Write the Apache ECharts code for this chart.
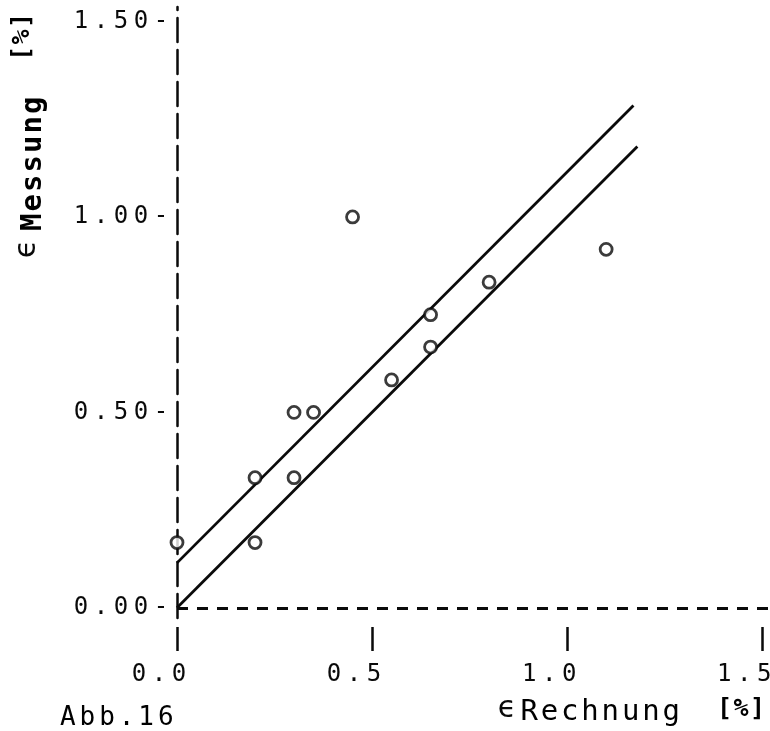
<!DOCTYPE html>
<html><head><meta charset="utf-8">
<script src="https://cdn.jsdelivr.net/npm/echarts@6/dist/echarts.min.js"></script>
<style>html,body{margin:0;padding:0;background:#fff}#c{width:770px;height:731px}</style>
</head><body><div id="c"></div>
<script>
// ---- data ----
const xRechnung = [0.0, 0.2, 0.2, 0.3, 0.3, 0.35, 0.45, 0.55, 0.65, 0.65, 0.8, 1.1];
const yMessung  = [0.167, 0.167, 0.333, 0.333, 0.5, 0.5, 1.0, 0.583, 0.667, 0.75, 0.833, 0.917];
const lowerLineX = [0, 1.18];
const lowerLineY = [0, 1.18];
const upperLineX = [0, 1.17];
const upperLineY = [0.115, 1.285];
const xTickValues = [0, 0.5, 1.0, 1.5];
const xTickLabels = ['0.0', '0.5', '1.0', '1.5'];
const yTickValues = [0, 0.5, 1.0, 1.5];
const yTickLabels = ['0.00', '0.50', '1.00', '1.50'];

const INK = '#0a0a0a';
const MONO = '"DejaVu Sans Mono", "Liberation Mono", monospace';
const SANS = '"DejaVu Sans", "Noto Sans", sans-serif';

function spaced(str, key) {
  return str.split('').map(ch => '{' + key + '|' + ch + '}').join('');
}
function cellStyle(size, w, weight) {
  return { width: w, align: 'center', fontFamily: MONO, fontSize: size, color: INK,
           fontWeight: weight || 'normal' };
}

const scatterData = xRechnung.map((x, i) => [x, yMessung[i]]);
const lowerData = lowerLineX.map((x, i) => [x, lowerLineY[i]]);
const upperData = upperLineX.map((x, i) => [x, upperLineY[i]]);

const chart = echarts.init(document.getElementById('c'), null, { renderer: 'canvas' });
chart.setOption({
  animation: false,
  backgroundColor: '#fff',
  grid: { left: 177, right: 0, top: 7, bottom: 113, containLabel: false, outerBoundsMode: 'none' },
  xAxis: {
    type: 'value', min: 0, max: 1.52, position: 'bottom', offset: 9,
    axisLine: { show: false, onZero: false },
    axisTick: { show: true, customValues: xTickValues, length: 24, inside: false,
                lineStyle: { color: INK, width: 2.5 } },
    axisLabel: {
      customValues: xTickValues, margin: 36,
      formatter: v => {
        const i = xTickValues.indexOf(v);
        return spaced(i >= 0 ? xTickLabels[i] : '', 'c') + '{pad| }';
      },
      rich: { c: cellStyle(24, 20), pad: { width: 36, fontSize: 24, fontFamily: MONO } }
    },
    splitLine: { show: false }
  },
  yAxis: {
    type: 'value', min: -0.026, max: 1.537,
    axisLine: { show: true, onZero: false, lineStyle: { color: INK, width: 2.5, type: [24, 8] } },
    axisTick: { show: false },
    axisLabel: {
      customValues: yTickValues, margin: 6,
      formatter: v => {
        const i = yTickValues.indexOf(v);
        return spaced((i >= 0 ? yTickLabels[i] : '') + '-', 'c');
      },
      rich: { c: cellStyle(24, 20) }
    },
    splitLine: { show: false }
  },
  series: [
    {
      type: 'line', data: lowerData, showSymbol: false, symbol: 'none', silent: true,
      lineStyle: { color: INK, width: 2.8 }, z: 3,
      markLine: {
        silent: true, symbol: ['none', 'none'], label: { show: false },
        lineStyle: { color: INK, width: 3, type: [11, 9] },
        data: [{ yAxis: 0 }]
      }
    },
    {
      type: 'line', data: upperData, showSymbol: false, symbol: 'none', silent: true,
      lineStyle: { color: INK, width: 2.8 }, z: 3
    },
    {
      type: 'scatter', data: scatterData, symbol: 'circle', symbolSize: 12, z: 4,
      itemStyle: { color: '#fff', borderColor: INK, borderWidth: 2.8 }
    }
  ],
  graphic: [
    { type: 'text', x: 58, y: 718, silent: true,
      style: { text: spaced('Abb.16', 'a'), align: 'left', verticalAlign: 'middle',
               rich: { a: cellStyle(26, 19.6) } } },
    { type: 'text', x: 507, y: 709, silent: true,
      style: { text: 'ϵ', align: 'center', verticalAlign: 'middle', fill: INK,
               fontSize: 30, fontFamily: SANS } },
    { type: 'text', x: 519, y: 712, silent: true,
      style: { text: spaced('Rechnung', 'r'), align: 'left', verticalAlign: 'middle',
               rich: { r: cellStyle(29, 20.3) } } },
    { type: 'text', x: 741, y: 709, silent: true,
      style: { text: spaced('[%]', 'p'), align: 'center', verticalAlign: 'middle',
               rich: { p: cellStyle(25, 16.5, 'bold') } } },
    { type: 'text', x: 27, y: 249, rotation: Math.PI / 2, silent: true,
      style: { text: 'ϵ', align: 'center', verticalAlign: 'middle', fill: INK,
               fontSize: 30, fontFamily: SANS } },
    { type: 'text', x: 33, y: 232, rotation: Math.PI / 2, silent: true,
      style: { text: spaced('Messung', 'm'), align: 'left', verticalAlign: 'middle',
               rich: { m: cellStyle(29, 19.5, 'bold') } } },
    { type: 'text', x: 22, y: 37, rotation: Math.PI / 2, silent: true,
      style: { text: spaced('[%]', 'q'), align: 'center', verticalAlign: 'middle',
               rich: { q: cellStyle(25, 16.5, 'bold') } } }
  ]
});
</script>
</body></html>
